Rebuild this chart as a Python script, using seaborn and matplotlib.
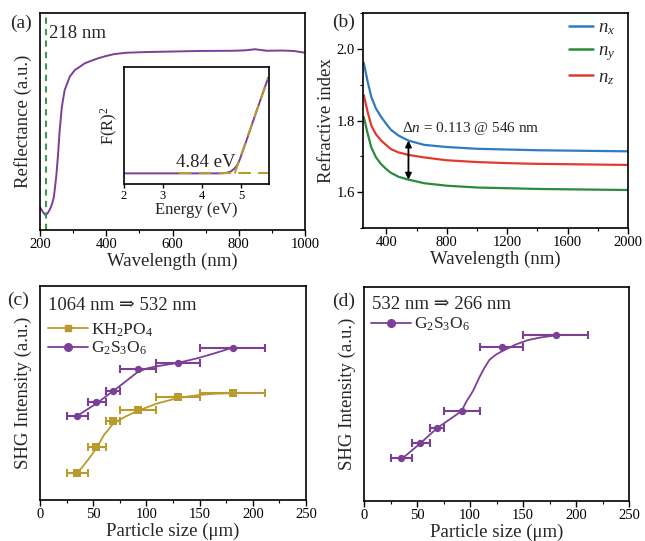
import numpy as np
import pandas as pd
import matplotlib
matplotlib.use('Agg')
import matplotlib.pyplot as plt
import seaborn as sns
from matplotlib.lines import Line2D
from matplotlib.ticker import MultipleLocator

# ---------------- data ----------------
# (a) diffuse reflectance
refl_wl = [200, 205, 210, 216, 222, 229, 236, 242, 249, 254, 259.5, 266, 274.5, 290, 305, 320,
           335, 355, 375, 400, 425, 462, 520, 582, 683, 784, 820, 849, 884, 930, 965, 1000]
refl_val = [0.105, 0.093, 0.080, 0.069, 0.075, 0.092, 0.118, 0.153, 0.246, 0.338, 0.461, 0.568,
            0.645, 0.707, 0.737, 0.752, 0.768, 0.780, 0.791, 0.802, 0.811, 0.817, 0.820, 0.822,
            0.825, 0.826, 0.828, 0.833, 0.826, 0.827, 0.825, 0.817]
edge_wl = 218

# (a) inset: Kubelka-Munk
energy = [2.0, 3.0, 4.0, 4.5, 4.6, 4.7, 4.75, 4.8, 4.85, 4.9, 4.95, 5.0, 5.2, 5.4, 5.6, 5.7]
fr2 = [0.1, 0.1, 0.1, 0.1, 0.103, 0.112, 0.12, 0.135, 0.152, 0.175, 0.212, 0.26, 0.47, 0.685, 0.895, 1.0]
base_e = [3.4, 5.7]
base_y = [0.1, 0.1]
tan_e = [4.84, 5.7]
tan_y = [0.1, 1.0]

# (b) refractive index
wl = [250, 275, 300, 330, 365, 400, 430, 480, 546, 650, 800, 1000, 1200, 1400, 1600, 1800, 2000]
n_x = [1.961, 1.910, 1.866, 1.834, 1.810, 1.790, 1.774, 1.758, 1.744, 1.732, 1.726, 1.721,
       1.719, 1.717, 1.716, 1.715, 1.714]
n_y = [1.810, 1.765, 1.725, 1.698, 1.678, 1.664, 1.654, 1.643, 1.635, 1.625, 1.618, 1.613,
       1.611, 1.609, 1.608, 1.607, 1.606]
n_z = [1.871, 1.825, 1.786, 1.762, 1.744, 1.731, 1.720, 1.711, 1.704, 1.697, 1.689, 1.684,
       1.681, 1.679, 1.678, 1.677, 1.676]

# (c), (d) SHG vs particle size
size = [35, 53, 69, 92, 130, 181]
size_lo = [25, 45, 62, 75, 109, 150]
size_hi = [45, 62, 75, 109, 150, 211]
kdp_1064 = [0.124, 0.246, 0.370, 0.420, 0.480, 0.499]
g_1064 = [0.393, 0.459, 0.509, 0.610, 0.638, 0.712]
g_532 = [0.198, 0.268, 0.340, 0.419, 0.721, 0.774]

# drawn fit curves
kdp_fit_x = [35, 45, 53, 60, 69, 80, 92, 110, 130, 150, 165, 181]
kdp_fit_y = [0.124, 0.187, 0.241, 0.303, 0.358, 0.389, 0.417, 0.451, 0.477, 0.491, 0.497, 0.499]
g1_fit_x = [35, 53, 69, 80, 92, 100, 110, 130, 150, 165, 181]
g1_fit_y = [0.393, 0.451, 0.510, 0.552, 0.599, 0.614, 0.625, 0.641, 0.665, 0.687, 0.712]
g2_fit_x = [35, 53, 69, 92, 96.5, 103, 109, 114, 118.5, 124, 130, 143.7, 155, 165.7, 181]
g2_fit_y = [0.193, 0.268, 0.340, 0.419, 0.463, 0.515, 0.579, 0.625, 0.660, 0.682, 0.699, 0.732,
            0.752, 0.763, 0.774]

# ---------------- style ----------------
sns.set_theme(style='ticks')
plt.rcParams['font.family'] = ['Liberation Serif', 'DejaVu Serif']
plt.rcParams['mathtext.fontset'] = 'custom'
plt.rcParams['mathtext.rm'] = 'Liberation Serif'
plt.rcParams['mathtext.it'] = 'Liberation Serif:italic'
plt.rcParams['mathtext.bf'] = 'Liberation Serif:bold'
plt.rcParams['axes.linewidth'] = 1.2
plt.rcParams['xtick.direction'] = 'out'
plt.rcParams['ytick.direction'] = 'out'

PURPLE = '#7B3F98'
GOLD = '#B89A2E'
BLUE = '#2F7BC0'
GREEN = '#2A8A3E'
RED = '#E03A33'
DGREEN = '#3A9A50'

TICK = 10.5
LAB = 13.5

fig = plt.figure(figsize=(6.45, 5.41), dpi=100)
W, H = 645.0, 541.0

def add_ax(x0, y0, x1, y1):
    return fig.add_axes([x0 / W, 1 - y1 / H, (x1 - x0) / W, (y1 - y0) / H])

def style(ax):
    for s in ax.spines.values():
        s.set_visible(True)
        s.set_color('black')
        s.set_linewidth(1.2)
    ax.tick_params(axis='both', which='major', labelsize=TICK, length=4, width=1.0, colors='black', pad=2)
    ax.tick_params(axis='both', which='minor', length=2.5, width=0.8, colors='black')

axA = add_ax(40, 13, 305, 230)
axB = add_ax(363, 13, 628, 228)
axC = add_ax(40, 286, 306, 500)
axD = add_ax(364, 287, 629, 500.7)
for ax in (axA, axB, axC, axD):
    style(ax)

# ---------------- (a) ----------------
dfa = pd.DataFrame({'wl': refl_wl, 'R': refl_val})
sns.lineplot(data=dfa, x='wl', y='R', ax=axA, color=PURPLE, lw=1.4, sort=False, estimator=None, legend=False)
axA.axvline(edge_wl, color=DGREEN, lw=1.5, dashes=(3, 2.5))
axA.text(226, 0.905, f'{edge_wl} nm', fontsize=LAB, va='center', ha='left')
axA.set_xlim(200, 1000)
axA.set_ylim(0, 1)
axA.xaxis.set_major_locator(MultipleLocator(200))
axA.xaxis.set_minor_locator(MultipleLocator(100))
axA.set_yticks([])
axA.set_xlabel('Wavelength (nm)', fontsize=LAB, labelpad=1)
axA.set_ylabel('Reflectance (a.u.)', fontsize=LAB, labelpad=6)

axI = add_ax(124, 67, 269, 184)
style(axI)
dfi = pd.DataFrame({'E': energy, 'F': fr2})
sns.lineplot(data=dfi, x='E', y='F', ax=axI, color=PURPLE, lw=1.4, sort=False, estimator=None, legend=False)
axI.plot(base_e, base_y, color=GOLD, lw=1.5, dashes=(6, 3.5))
axI.plot(tan_e, tan_y, color=GOLD, lw=1.5, dashes=(6, 3.5))
axI.text(4.87, 0.2, '4.84 eV', fontsize=LAB, ha='right', va='center')
axI.set_xlim(2, 5.72)
axI.set_ylim(0, 1.1)
axI.set_xticks([2, 3, 4, 5])
axI.set_yticks([])
axI.tick_params(axis='x', labelsize=9, length=3, pad=1)
axI.set_xlabel('Energy (eV)', fontsize=12, labelpad=0)
axI.set_ylabel('F(R)$^2$', fontsize=12, labelpad=3)

# ---------------- (b) ----------------
dfb = pd.DataFrame({'wl': wl * 3, 'n': n_x + n_y + n_z,
                    'axis': ['$n_x$'] * len(wl) + ['$n_y$'] * len(wl) + ['$n_z$'] * len(wl)})
sns.lineplot(data=dfb, x='wl', y='n', hue='axis', ax=axB, palette=[BLUE, GREEN, RED],
             lw=1.6, sort=False, estimator=None)
axB.set_xlim(245, 2000)
axB.set_ylim(1.5, 2.1)
axB.xaxis.set_major_locator(MultipleLocator(400))
axB.xaxis.set_minor_locator(MultipleLocator(200))
axB.set_yticks([1.6, 1.8, 2.0])
axB.yaxis.set_minor_locator(MultipleLocator(0.1))
axB.set_xlabel('Wavelength (nm)', fontsize=LAB, labelpad=1)
axB.set_ylabel('Refractive index', fontsize=LAB, labelpad=1)
i546 = wl.index(546)
axB.annotate('', xy=(546, n_y[i546]), xytext=(546, n_x[i546]),
             arrowprops=dict(arrowstyle='<|-|>', color='black', lw=1.3, mutation_scale=9, shrinkA=0, shrinkB=0))
axB.text(500, 1.778, 'Δ$n$ = 0.113 @ 546 nm', fontsize=11, ha='left', va='center')
legB = axB.legend(loc='upper right', bbox_to_anchor=(1 - 13 / 265, 1 - 6 / 215), frameon=False,
                  fontsize=LAB, handlelength=1.3, handletextpad=0.25, labelspacing=0.3,
                  borderpad=0, borderaxespad=0)
for l in legB.get_lines():
    l.set_linewidth(1.8)

# ---------------- (c), (d) ----------------
def shg(ax, x, y, fx, fy, color, marker):
    xerr = [np.array(x) - np.array(size_lo), np.array(size_hi) - np.array(x)]
    ax.errorbar(x, y, xerr=xerr, fmt='none', ecolor=color, elinewidth=1.5, capsize=3, capthick=1.5, zorder=2)
    sns.lineplot(x=fx, y=fy, ax=ax, color=color, lw=1.3, sort=False, estimator=None, legend=False, zorder=3)
    sns.scatterplot(x=x, y=y, ax=ax, color=color, marker=marker, s=28, edgecolor=color, linewidth=0,
                    legend=False, zorder=4)

shg(axC, size, kdp_1064, kdp_fit_x, kdp_fit_y, GOLD, 's')
shg(axC, size, g_1064, g1_fit_x, g1_fit_y, PURPLE, 'o')
shg(axD, size, g_532, g2_fit_x, g2_fit_y, PURPLE, 'o')

for ax in (axC, axD):
    ax.set_xlim(0, 250)
    ax.set_ylim(0, 1)
    ax.xaxis.set_major_locator(MultipleLocator(50))
    ax.xaxis.set_minor_locator(MultipleLocator(25))
    ax.set_yticks([])
    ax.set_xlabel('Particle size (μm)', fontsize=LAB, labelpad=1)
    ax.set_ylabel('SHG Intensity (a.u.)', fontsize=LAB, labelpad=6)

h_kdp = Line2D([], [], color=GOLD, lw=1.3, marker='s', markersize=5)
h_g = Line2D([], [], color=PURPLE, lw=1.3, marker='o', markersize=5.5)

axC.text(0.03, 0.911, '1064 nm ⇒ 532 nm', transform=axC.transAxes, fontsize=LAB, ha='left', va='center')
axC.legend([h_kdp, h_g], ['KH$_2$PO$_4$', 'G$_2$S$_3$O$_6$'], loc='upper left',
           bbox_to_anchor=(0.03, 0.835), frameon=False, fontsize=12.5, handlelength=2.3,
           handletextpad=0.15, labelspacing=0.05, borderpad=0, borderaxespad=0)

axD.text(0.03, 0.916, '532 nm ⇒ 266 nm', transform=axD.transAxes, fontsize=LAB, ha='left', va='center')
axD.legend([h_g], ['G$_2$S$_3$O$_6$'], loc='upper left',
           bbox_to_anchor=(0.028, 0.865), frameon=False, fontsize=12.5, handlelength=2.3,
           handletextpad=0.15, labelspacing=0.05, borderpad=0, borderaxespad=0)

# panel labels
fig.text(10 / W, 1 - 23.5 / H, '(a)', fontsize=14, ha='left', va='center')
fig.text(332 / W, 1 - 22.5 / H, '(b)', fontsize=14, ha='left', va='center')
fig.text(7 / W, 1 - 300 / H, '(c)', fontsize=14, ha='left', va='center')
fig.text(332 / W, 1 - 301.5 / H, '(d)', fontsize=14, ha='left', va='center')

fig.savefig('out.png', dpi=100, facecolor='white')
